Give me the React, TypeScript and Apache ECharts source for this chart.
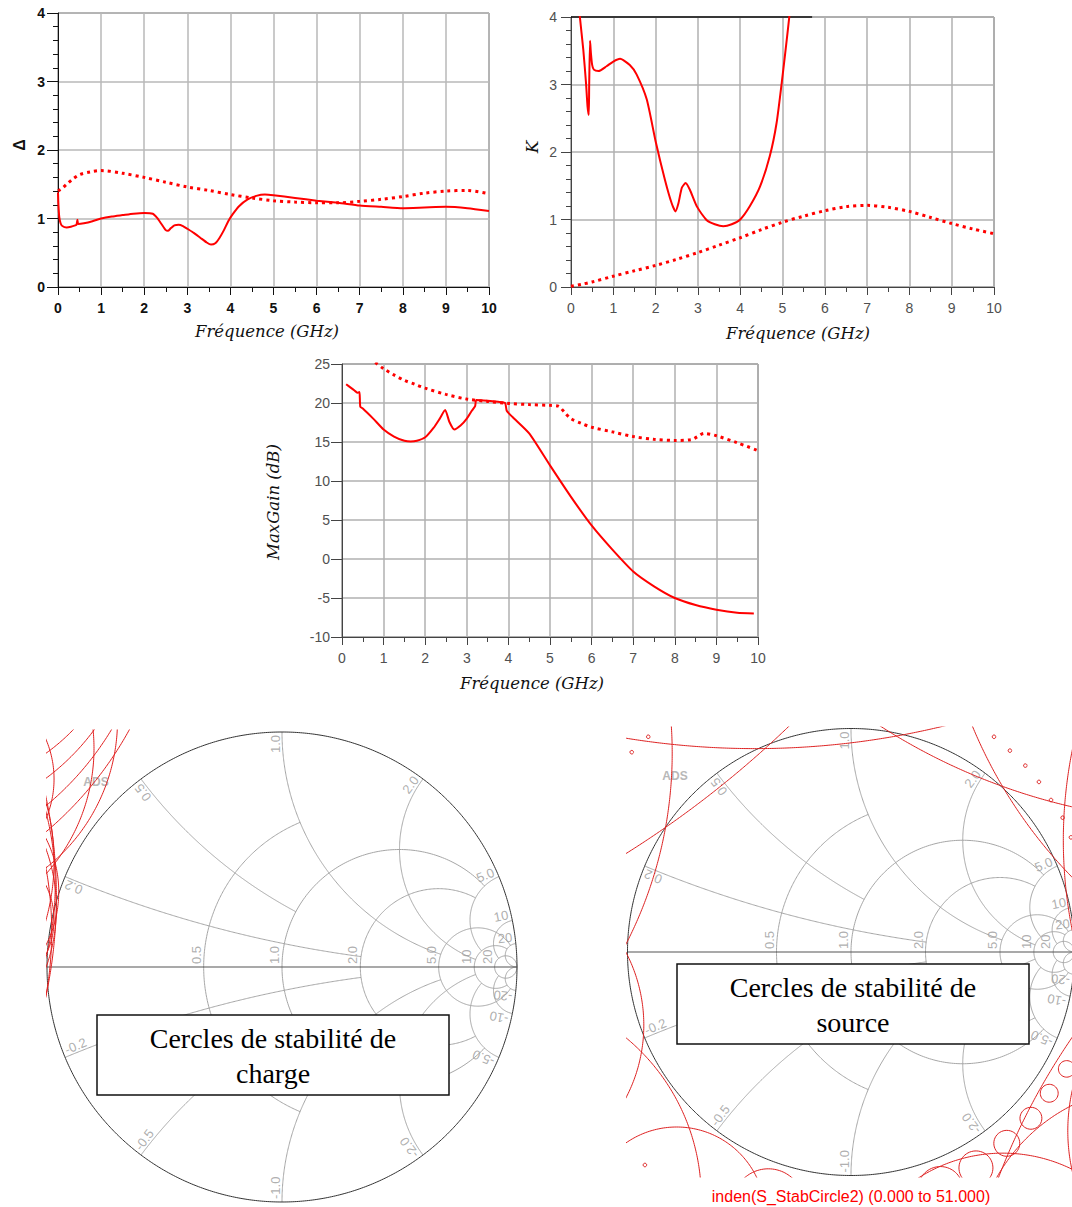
import React, { useEffect, useRef } from "react";
import * as echarts from "echarts";

// ================= DATA =================
// Δ (top-left)
const deltaSolidFreq = [0, 0.01, 0.03, 0.06, 0.1, 0.2, 0.3, 0.4, 0.43, 0.45, 0.47, 0.6, 0.8, 1.0, 1.25, 1.5, 1.75, 2.0, 2.2, 2.3, 2.4, 2.5, 2.55, 2.62, 2.7, 2.8, 2.9, 3.0, 3.15, 3.3, 3.45, 3.55, 3.65, 3.75, 3.85, 3.95, 4.05, 4.2, 4.4, 4.6, 4.8, 5.0, 5.5, 6.0, 6.5, 7.0, 7.5, 8.0, 8.5, 9.0, 9.5, 10];
const deltaSolidVal = [1.38, 1.2, 1.02, 0.93, 0.89, 0.87, 0.88, 0.9, 0.91, 0.98, 0.92, 0.93, 0.96, 1.0, 1.03, 1.05, 1.07, 1.08, 1.07, 1.01, 0.92, 0.83, 0.82, 0.86, 0.9, 0.91, 0.89, 0.85, 0.79, 0.72, 0.65, 0.62, 0.64, 0.72, 0.83, 0.96, 1.06, 1.18, 1.28, 1.33, 1.35, 1.34, 1.3, 1.26, 1.23, 1.19, 1.17, 1.15, 1.16, 1.17, 1.15, 1.11];
const deltaDotFreq = [0, 0.05, 0.1, 0.2, 0.35, 0.5, 0.75, 1.0, 1.5, 2.0, 2.5, 3.0, 3.5, 4.0, 4.5, 5.0, 5.5, 6.0, 6.5, 7.0, 7.5, 8.0, 8.5, 9.0, 9.5, 10];
const deltaDotVal = [1.4, 1.42, 1.44, 1.5, 1.58, 1.64, 1.68, 1.7, 1.66, 1.6, 1.53, 1.46, 1.41, 1.35, 1.3, 1.26, 1.24, 1.23, 1.23, 1.25, 1.28, 1.32, 1.37, 1.4, 1.41, 1.36];

// K (top-right)
const kSolidFreq = [0.15, 0.21, 0.29, 0.355, 0.39, 0.42, 0.43, 0.45, 0.47, 0.5, 0.54, 0.65, 0.84, 1.0, 1.16, 1.39, 1.55, 1.79, 2.0, 2.22, 2.38, 2.47, 2.54, 2.62, 2.71, 2.81, 2.97, 3.21, 3.4, 3.6, 3.8, 4.0, 4.23, 4.47, 4.7, 4.86, 5.0, 5.1, 5.16, 5.25];
const kSolidVal = [4.5, 4.0, 3.52, 3.02, 2.68, 2.55, 3.0, 3.65, 3.47, 3.29, 3.22, 3.2, 3.27, 3.34, 3.38, 3.29, 3.15, 2.78, 2.16, 1.59, 1.24, 1.12, 1.24, 1.47, 1.54, 1.44, 1.2, 0.99, 0.93, 0.9, 0.93, 1.0, 1.2, 1.49, 1.94, 2.43, 3.12, 3.66, 4.0, 4.6];
const kDotFreq = [0, 0.25, 0.5, 1, 1.5, 2, 2.5, 3, 3.5, 4, 4.5, 5, 5.5, 6, 6.5, 7, 7.5, 8, 8.5, 9, 9.5, 10];
const kDotVal = [0.01, 0.04, 0.075, 0.16, 0.24, 0.32, 0.41, 0.51, 0.62, 0.73, 0.85, 0.96, 1.05, 1.13, 1.19, 1.21, 1.18, 1.12, 1.03, 0.94, 0.86, 0.79];

// MaxGain (middle)
const gainSolidFreq = [0.1, 0.2, 0.3, 0.38, 0.42, 0.44, 0.5, 0.75, 1.0, 1.25, 1.5, 1.65, 1.8, 2.0, 2.2, 2.35, 2.48, 2.58, 2.7, 2.85, 3.0, 3.12, 3.2, 3.23, 3.5, 3.75, 3.92, 3.96, 4.1, 4.5, 5.0, 5.5, 6.0, 6.5, 7.0, 7.5, 8.0, 8.5, 9.0, 9.5, 9.9];
const gainSolidVal = [22.4, 22.0, 21.6, 21.3, 21.4, 19.5, 19.3, 18.0, 16.6, 15.7, 15.15, 15.05, 15.15, 15.6, 16.8, 18.0, 19.1, 17.6, 16.6, 17.1, 18.0, 19.0, 19.6, 20.4, 20.3, 20.15, 20.0, 19.0, 18.2, 16.1, 12.0, 8.0, 4.3, 1.2, -1.6, -3.5, -5.0, -5.9, -6.5, -6.9, -7.0];
const gainDotFreq = [0.8, 1.0, 1.25, 1.5, 1.75, 2.0, 2.5, 3.0, 3.5, 4.0, 4.5, 5.0, 5.2, 5.35, 5.5, 5.75, 6.0, 6.5, 7.0, 7.5, 8.0, 8.4, 8.55, 8.7, 9.0, 9.5, 10];
const gainDotVal = [25.2, 24.4, 23.6, 22.9, 22.4, 21.9, 21.1, 20.5, 20.2, 19.95, 19.8, 19.7, 19.6, 18.8, 18.0, 17.4, 16.9, 16.3, 15.7, 15.35, 15.2, 15.3, 15.7, 16.1, 15.8, 14.9, 13.9];

// Load stability circles (Γ plane): centre x, centre y, radius
const loadCircleCx = [-1.45, -1.7, -2.2, -1.3, -3.0, -1.9, -2.5, -1.5, -1.6, -1.82, -2.0, -1.6, -1.5, -1.4];
const loadCircleCy = [0.32, 0.25, 0.35, 0.2, 0.3, 0.45, 0.15, 1.6, 1.6, 1.67, 1.75, 0.93, 1.05, 0.8];
const loadCircleR = [0.5, 0.74, 1.235, 0.33, 2.04, 0.93, 1.52, 0.85, 0.995, 1.278, 1.54, 0.8, 0.8, 0.43];

// Source stability circles (Γ plane)
const sourceCircleCx = [-0.43, -3.42, -2.67, 1.6, 2.52, 3.0, -1.63, -1.6, -0.78, -0.37, 0.965, 0.887, 0.805, 0.697, 0.559, 0.4, 0.68, 3.48, 1.35, 1.8, 0.64, 0.711, 0.78, 0.841, 0.895, 0.947, 0.984, -0.907, -0.981, -0.922];
const sourceCircleCy = [4.5, 4.28, 0.89, 3.3, 1.83, 0.5, -0.327, -1.1, -1.18, -1.13, -0.523, -0.632, -0.744, -0.856, -0.966, -1.06, -1.6, -2.09, -1.4, -0.8, 0.963, 0.901, 0.834, 0.761, 0.68, 0.601, 0.513, 0.963, 0.894, -0.953];
const sourceCircleR = [3.59, 4.535, 1.87, 2.72, 2.14, 2.05, 0.703, 0.93, 0.397, 0.16, 0.037, 0.04, 0.049, 0.058, 0.076, 0.1, 0.7, 3.02, 0.8, 0.83, 0.008, 0.008, 0.008, 0.008, 0.008, 0.008, 0.008, 0.008, 0.008, 0.008];

// Smith chart grid values and labels
const smithR = [0.5, 1, 2, 5, 10, 20];
const smithRLimit = [1, 5, 5, 20, 20, Infinity];
const smithRLabels = ["0.5", "1.0", "2.0", "5.0", "10", "20"];
const smithX = [0.2, 0.5, 1, 2, 5, 10, 20];
const smithXLimit = [2, 1, 5, 10, 10, 20, Infinity];
const smithXLabels = ["0.2", "0.5", "1.0", "2.0", "5.0", "10", "20"];

// ================= LAYOUT =================
const RED = "#ff0000";
const SANS = '"Liberation Sans", Arial, sans-serif';
const MATH = '"DejaVu Serif", serif';
const G_DELTA = { left: 58, top: 13, width: 431, height: 274 };
const G_K = { left: 571, top: 17, width: 423, height: 270 };
const G_GAIN = { left: 342, top: 364, width: 416, height: 273 };
const LEFT_SMITH = { cx: 282, cy: 967, R: 235, left: 47, top: 730, width: 480, height: 477 };
const RIGHT_SMITH = { cx: 851, cy: 952, R: 223.5, left: 627, top: 727, width: 445, height: 450 };

function pairs(xs: number[], ys: number[]) {
  return xs.map((x, i) => [x, ys[i]]);
}

function gam(r: number, x: number) {
  const d = (r + 1) * (r + 1) + x * x;
  return [(r * r + x * x - 1) / d, (2 * x) / d];
}

function circlePts(cx: number, cy: number, r: number) {
  const n = Math.max(40, Math.ceil(2 * Math.PI * r * 120));
  const pts: number[][] = [];
  for (let i = 0; i <= n; i++) {
    const t = (2 * Math.PI * i) / n;
    pts.push([cx + r * Math.cos(t), cy + r * Math.sin(t)]);
  }
  return pts;
}

function rCircle(r: number, xlim: number) {
  const c = r / (1 + r);
  const rad = 1 / (1 + r);
  let t0 = 0;
  let t1 = 2 * Math.PI;
  if (isFinite(xlim)) {
    const g = gam(r, xlim);
    const te = Math.atan2(g[1], g[0] - c);
    t0 = te;
    t1 = 2 * Math.PI - te;
  }
  const pts: number[][] = [];
  const n = 240;
  for (let i = 0; i <= n; i++) {
    const t = t0 + ((t1 - t0) * i) / n;
    pts.push([c + rad * Math.cos(t), rad * Math.sin(t)]);
  }
  return pts;
}

function xArc(x: number, rlim: number) {
  const xp = Math.abs(x);
  const sg = x < 0 ? -1 : 1;
  const cy = 1 / xp;
  const rad = 1 / xp;
  const g0 = gam(0, xp);
  const g1 = isFinite(rlim) ? gam(rlim, xp) : [1, 0];
  const norm = (a: number) => ((a % (2 * Math.PI)) + 2 * Math.PI) % (2 * Math.PI);
  const p0 = norm(Math.atan2(g0[1] - cy, g0[0] - 1));
  let p1 = norm(Math.atan2(g1[1] - cy, g1[0] - 1));
  if (p1 < p0) p1 += 2 * Math.PI;
  const pts: number[][] = [];
  const n = 240;
  for (let i = 0; i <= n; i++) {
    const p = p0 + ((p1 - p0) * i) / n;
    pts.push([1 + rad * Math.cos(p), sg * (cy + rad * Math.sin(p))]);
  }
  return pts;
}

function textW(s: string, fs: number) {
  let w = 0;
  for (const ch of s) w += ch === "." ? 0.278 : ch === "-" ? 0.333 : 0.556;
  return w * fs;
}

function smithSeries(axis: number, L: typeof LEFT_SMITH) {
  const out: any[] = [];
  const add = (data: number[][], color: string, width: number, z = 2) =>
    out.push({
      type: "line", xAxisIndex: axis, yAxisIndex: axis, data, symbol: "none", showSymbol: false,
      silent: true, animation: false, z, lineStyle: { color, width },
    });
  smithR.forEach((r, i) => add(rCircle(r, smithRLimit[i]), "#a6a6a6", 1));
  smithX.forEach((x, i) => {
    add(xArc(x, smithXLimit[i]), "#a6a6a6", 1);
    add(xArc(-x, smithXLimit[i]), "#a6a6a6", 1);
  });
  add(circlePts(0, 0, 1), "#333333", 1, 3);
  add([[-1, 0], [1, 0]], "#555555", 1.2, 3);

  // labels
  const fs = 13;
  const labels: any[] = [];
  smithX.forEach((x, i) => {
    [1, -1].forEach((s) => {
      const g = gam(0, x * s);
      const th = Math.atan2(g[1], g[0]);
      let rot = (th * 180) / Math.PI;
      rot = ((rot % 180) + 180) % 180;
      const rr = (rot * Math.PI) / 180;
      const perp = [-Math.sin(rr), Math.cos(rr)];
      const text = (s < 0 ? "-" : "") + smithXLabels[i];
      const d = textW(text, fs) / 2 + 3;
      labels.push({
        name: text,
        value: [g[0] - (Math.cos(th) * d) / L.R + (perp[0] * 6.5) / L.R, g[1] - (Math.sin(th) * d) / L.R + (perp[1] * 6.5) / L.R],
        label: { rotate: rot },
      });
    });
  });
  smithR.forEach((r, i) => {
    const gx = (r - 1) / (r + 1);
    const text = smithRLabels[i];
    labels.push({ name: text, value: [gx - 7.5 / L.R, (textW(text, fs) / 2 + 3) / L.R], label: { rotate: 90 } });
  });
  out.push({
    type: "scatter", xAxisIndex: axis, yAxisIndex: axis, symbolSize: 1, silent: true, z: 4,
    itemStyle: { color: "rgba(0,0,0,0)" },
    label: { show: true, position: "inside", formatter: "{b}", color: "#9a9a9a", fontSize: fs, fontFamily: SANS },
    data: labels,
  });
  return out;
}

function stabSeries(axis: number, cxs: number[], cys: number[], rs: number[], color: string) {
  return cxs.map((cx, i) => ({
    type: "line", xAxisIndex: axis, yAxisIndex: axis, data: circlePts(cx, cys[i], rs[i]),
    symbol: "none", showSymbol: false, silent: true, z: 5, clip: true,
    lineStyle: { color, width: 1 },
  }));
}

function smithAxes(i: number, L: typeof LEFT_SMITH) {
  return {
    x: { type: "value", gridIndex: i, min: (L.left - L.cx) / L.R, max: (L.left + L.width - L.cx) / L.R, show: false },
    y: { type: "value", gridIndex: i, min: (L.cy - L.top - L.height) / L.R, max: (L.cy - L.top) / L.R, show: false },
  };
}

function xAxisFor(gi: number, label: any, tickColor: string, splitColor: string) {
  return {
    type: "value", gridIndex: gi, min: 0, max: 10, interval: 1,
    axisLine: { show: true, onZero: false, lineStyle: { color: tickColor, width: 1 } },
    axisTick: { show: true, length: 8, lineStyle: { color: tickColor } },
    minorTick: { show: true, splitNumber: 2, length: 5, lineStyle: { color: tickColor } },
    axisLabel: { margin: 14, fontFamily: SANS, fontSize: 14, ...label },
    splitLine: { show: true, lineStyle: { color: splitColor, width: 1.5 } },
  };
}

function yAxisFor(gi: number, min: number, max: number, interval: number, minorSplit: number, margin: number, label: any, tickColor: string, splitColor: string) {
  return {
    type: "value", gridIndex: gi, min, max, interval,
    axisLine: { show: true, onZero: false, lineStyle: { color: tickColor, width: 1 } },
    axisTick: { show: true, length: 10, lineStyle: { color: tickColor } },
    minorTick: { show: minorSplit > 0, splitNumber: minorSplit || 5, length: 5, lineStyle: { color: tickColor } },
    axisLabel: { margin, fontFamily: SANS, fontSize: 14, ...label },
    splitLine: { show: true, lineStyle: { color: splitColor, width: 1.5 } },
  };
}

function txt(x: number, y: number, text: string, font: string, fill: string, rotation = 0, z = 10, extra: any = {}) {
  return {
    type: "text", x, y, rotation, z, silent: true,
    style: { text, font, fill, align: "center", verticalAlign: "middle", textAlign: "center", textVerticalAlign: "middle", ...extra },
  };
}

function buildOption() {
  const la = smithAxes(3, LEFT_SMITH);
  const ra = smithAxes(4, RIGHT_SMITH);
  const boldLbl = { color: "#111", fontWeight: "bold" };
  const grayLbl = { color: "#505050" };
  const solid = (axis: number, data: number[][], extra: any = {}) => ({
    type: "line", xAxisIndex: axis, yAxisIndex: axis, data, symbol: "none", showSymbol: false,
    smooth: 0.2,
    silent: true, z: 6, lineStyle: { color: RED, width: 2 }, ...extra,
  });
  const dotted = (axis: number, data: number[][]) => ({
    type: "line", xAxisIndex: axis, yAxisIndex: axis, data, symbol: "none", showSymbol: false,
    smooth: 0.3,
    silent: true, z: 6, lineStyle: { color: RED, width: 3, type: [3, 4] },
  });
  return {
    animation: false,
    backgroundColor: "#ffffff",
    grid: [
      { ...G_DELTA, show: true, borderColor: "#555", borderWidth: 1 },
      { ...G_K, show: true, borderColor: "#555", borderWidth: 1 },
      { ...G_GAIN, show: true, borderColor: "#555", borderWidth: 1 },
      { left: LEFT_SMITH.left, top: LEFT_SMITH.top, width: LEFT_SMITH.width, height: LEFT_SMITH.height },
      { left: RIGHT_SMITH.left, top: RIGHT_SMITH.top, width: RIGHT_SMITH.width, height: RIGHT_SMITH.height },
    ],
    xAxis: [
      xAxisFor(0, boldLbl, "#111", "#b8b8b8"),
      xAxisFor(1, grayLbl, "#444", "#b0b0b0"),
      xAxisFor(2, grayLbl, "#444", "#b0b0b0"),
      la.x,
      ra.x,
    ],
    yAxis: [
      { ...yAxisFor(0, 0, 4, 1, 5, 13, boldLbl, "#111", "#b8b8b8"), axisTick: { show: true, length: 11, lineStyle: { color: "#111" } } },
      yAxisFor(1, 0, 4, 1, 5, 14, grayLbl, "#444", "#b0b0b0"),
      { ...yAxisFor(2, -10, 25, 5, 0, 12, grayLbl, "#444", "#b0b0b0"), axisTick: { show: true, length: 11, lineStyle: { color: "#444" } } },
      la.y,
      ra.y,
    ],
    series: [
      solid(0, pairs(deltaSolidFreq, deltaSolidVal)),
      dotted(0, pairs(deltaDotFreq, deltaDotVal)),
      solid(1, pairs(kSolidFreq, kSolidVal), {
        markLine: {
          silent: true, symbol: "none", label: { show: false },
          lineStyle: { color: "#111", width: 1.5, type: "solid" },
          data: [[{ coord: [0, 4] }, { coord: [5.7, 4] }]],
        },
      }),
      dotted(1, pairs(kDotFreq, kDotVal)),
      solid(2, pairs(gainSolidFreq, gainSolidVal)),
      dotted(2, pairs(gainDotFreq, gainDotVal)),
      ...smithSeries(3, LEFT_SMITH),
      ...smithSeries(4, RIGHT_SMITH),
      ...stabSeries(3, loadCircleCx, loadCircleCy, loadCircleR, "#e01e1e"),
      ...stabSeries(4, sourceCircleCx, sourceCircleCy, sourceCircleR, "#dd2020"),
    ],
    graphic: [
      txt(19, 145, "Δ", `bold 16px ${SANS}`, "#111", Math.PI / 2),
      txt(267, 331, "Fréquence (GHz)", `italic 16.5px ${MATH}`, "#111"),
      txt(532, 147, "K", `italic 17px ${MATH}`, "#111", Math.PI / 2),
      txt(798, 333, "Fréquence (GHz)", `italic 16.5px ${MATH}`, "#111"),
      txt(273, 502, "MaxGain (dB)", `italic 16.5px ${MATH}`, "#111", Math.PI / 2),
      txt(532, 683, "Fréquence (GHz)", `italic 16.5px ${MATH}`, "#111"),
      txt(96, 782, "ADS", `bold 12px ${SANS}`, "#b8b8b8", 0, 1),
      txt(675, 776, "ADS", `bold 12px ${SANS}`, "#b8b8b8", 0, 1),
      {
        type: "rect", z: 100, silent: true,
        shape: { x: 97, y: 1015, width: 352, height: 80 },
        style: { fill: "#ffffff", stroke: "#111", lineWidth: 1.5 },
      },
      txt(273, 1056, "Cercles de stabilité de\ncharge", '28px "Liberation Serif", serif', "#000", 0, 101, { lineHeight: 35 }),
      {
        type: "rect", z: 100, silent: true,
        shape: { x: 677, y: 964, width: 352, height: 80 },
        style: { fill: "#ffffff", stroke: "#111", lineWidth: 1.5 },
      },
      txt(853, 1005, "Cercles de stabilité de\nsource", '28px "Liberation Serif", serif', "#000", 0, 101, { lineHeight: 35 }),
      txt(851, 1196, "inden(S_StabCircle2) (0.000 to 51.000)", `16px ${SANS}`, "#ff0000", 0, 20),
    ],
  };
}

export default function App() {
  const ref = useRef<HTMLDivElement>(null);
  useEffect(() => {
    if (!ref.current) return;
    const chart = echarts.init(ref.current, null, { renderer: "svg" });
    chart.setOption(buildOption() as any);
    return () => chart.dispose();
  }, []);
  return (
    <div
      ref={ref}
      style={{ position: "absolute", left: 0, top: 0, width: 1072, height: 1207, background: "#fff" }}
    />
  );
}
